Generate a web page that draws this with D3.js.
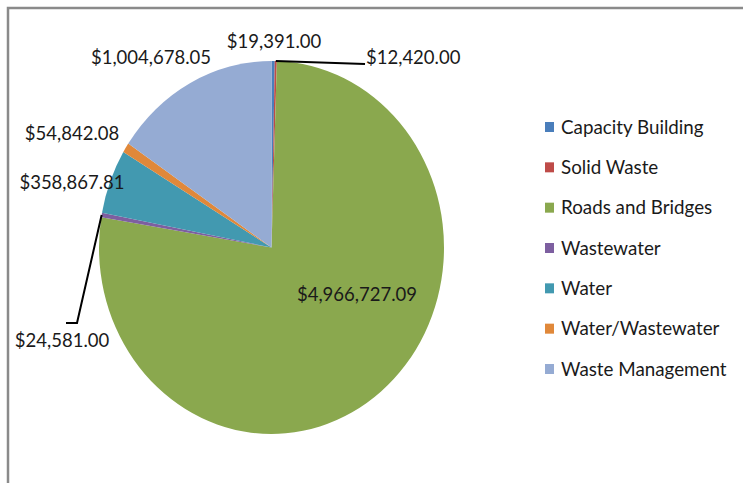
<!DOCTYPE html>
<html>
<head>
<meta charset="utf-8">
<script src="https://cdn.jsdelivr.net/npm/d3@7"></script>
<style>
  html, body { margin: 0; padding: 0; background: #fff; }
  svg { display: block; }
  text { font-family: Lato, "Open Sans", sans-serif; fill: #1a1a1a; }
</style>
</head>
<body>
<svg id="chart" width="743" height="483"></svg>
<script>
// ---- data ----
const categories = ["Capacity Building", "Solid Waste", "Roads and Bridges", "Wastewater", "Water", "Water/Wastewater", "Waste Management"];
const values = [19391.00, 12420.00, 4966727.09, 24581.00, 358867.81, 54842.08, 1004678.05];
const labels = ["$19,391.00", "$12,420.00", "$4,966,727.09", "$24,581.00", "$358,867.81", "$54,842.08", "$1,004,678.05"];
const colors = ["#4a7ebb", "#be4b48", "#8aa84e", "#7d5fa0", "#4299b0", "#e0883a", "#95abd3"];

// ---- layout ----
const W = 743, H = 483;
const cx = 271.5, cy = 247.5, rx = 172.5, ry = 186.5;
const sy = ry / rx;

// label layout (x, baseline y) and optional leader elbow points
const labelLayout = [
  { x: 274, y: 48, anchor: "middle" },
  { x: 366, y: 64, anchor: "start", leader: [[365, 64]] },
  { x: 357, y: 301, anchor: "middle" },
  { x: 62, y: 347, anchor: "middle", leader: [[77, 323], [66, 323]] },
  { x: 72, y: 189, anchor: "middle" },
  { x: 72, y: 140, anchor: "middle" },
  { x: 151, y: 64, anchor: "middle" }
];

const svg = d3.select("#chart");

// frame
svg.append("path")
  .attr("d", `M8,${H} L8,8 L${W},8`)
  .attr("fill", "none")
  .attr("stroke", "#8a8a8a")
  .attr("stroke-width", 2.5);

const pie = d3.pie().sort(null).value(d => d).startAngle(0).endAngle(2 * Math.PI);
const arcs = pie(values);
const arc = d3.arc().innerRadius(0).outerRadius(rx);

const g = svg.append("g").attr("transform", `translate(${cx},${cy}) scale(1,${sy})`);
g.selectAll("path.slice")
  .data(arcs)
  .join("path")
  .attr("class", "slice")
  .attr("d", arc)
  .attr("fill", (d, i) => colors[i]);

// leader lines
arcs.forEach((d, i) => {
  const L = labelLayout[i];
  if (!L.leader) return;
  const a = (d.startAngle + d.endAngle) / 2;
  const p0 = [cx + rx * Math.sin(a), cy - ry * Math.cos(a)];
  const pts = [p0].concat(L.leader);
  svg.append("path")
    .attr("d", d3.line()(pts))
    .attr("fill", "none")
    .attr("stroke", "#000")
    .attr("stroke-width", 2);
});

// data labels
svg.selectAll("text.lbl")
  .data(labels)
  .join("text")
  .attr("class", "lbl")
  .attr("x", (d, i) => labelLayout[i].x)
  .attr("y", (d, i) => labelLayout[i].y)
  .attr("text-anchor", (d, i) => labelLayout[i].anchor)
  .attr("font-size", 18.5)
  .text(d => d);

// legend
const leg = svg.append("g");
const rowY = d3.scalePoint().domain(categories).range([127, 369]);
categories.forEach((c, i) => {
  const y = rowY(c);
  leg.append("rect")
    .attr("x", 545).attr("y", y - 5)
    .attr("width", 9).attr("height", 10)
    .attr("fill", colors[i]);
  leg.append("text")
    .attr("x", 561).attr("y", y + 6.5)
    .attr("font-size", 18.8)
    .text(c);
});
</script>
</body>
</html>
